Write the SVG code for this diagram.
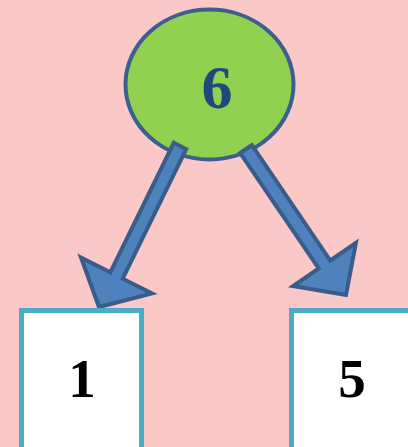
<svg xmlns="http://www.w3.org/2000/svg" width="408" height="447" viewBox="0 0 408 447">
<style>
.num{font-family:"Liberation Serif","Times New Roman",serif;font-weight:bold;text-anchor:middle}
.box{fill:#ffffff;stroke:#4bacc6;stroke-width:5}
.arrow{fill:#4f81bd;stroke:#385d8a;stroke-width:4;stroke-linejoin:miter}
</style>
<rect x="0" y="0" width="408" height="447" fill="#fac8c6"/>
<g id="node-6">
<ellipse cx="209.5" cy="84.5" rx="84" ry="75" fill="#92d050" stroke="#3b5f8f" stroke-width="4"/>
<text class="num" x="217" y="108" font-size="62" fill="#1f497d">6</text>
</g>
<g id="connectors">
<polygon class="arrow" points="173.8,142.8 186.2,149.2 122.7,278.7 152,293.5 99,307 81,257.5 110.3,272.3"/>
<polygon class="arrow" points="240.2,153 251.8,145 330.3,260.5 355.9,243 346,295 293.1,286 318.7,268.5"/>
</g>
<g id="node-1">
<rect class="box" x="21.5" y="310.5" width="120" height="150"/>
<text class="num" x="82" y="397" font-size="55" fill="#000000">1</text>
</g>
<g id="node-5">
<rect class="box" x="291.5" y="310.5" width="120" height="150"/>
<text class="num" x="352" y="397" font-size="55" fill="#000000">5</text>
</g>
</svg>
